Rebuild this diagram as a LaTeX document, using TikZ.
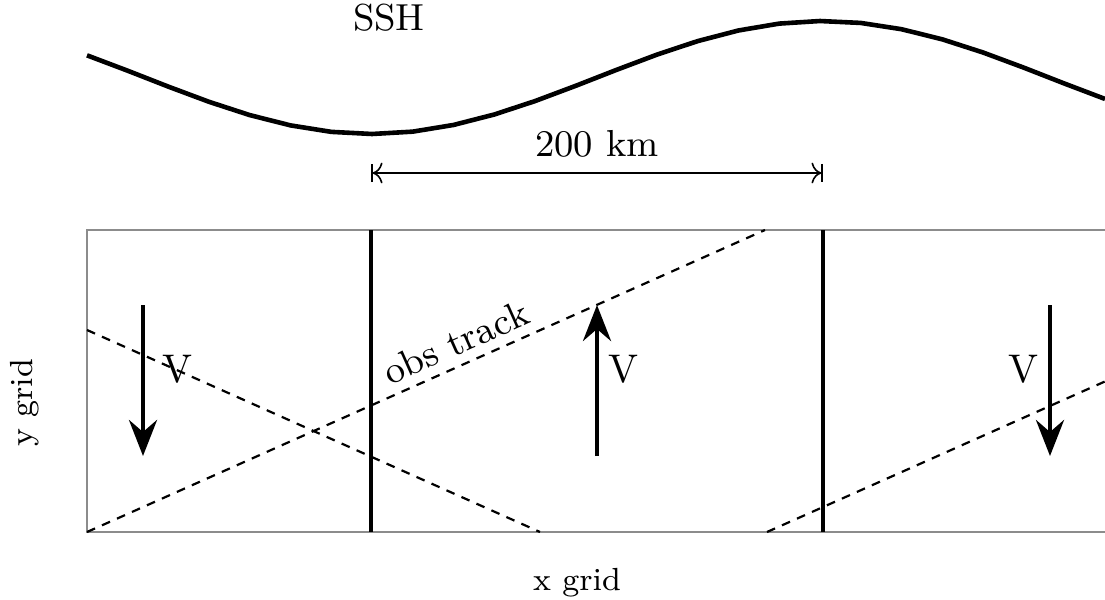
\documentclass[tikz,border=0pt]{standalone}
\usetikzlibrary{arrows.meta}
\begin{document}
\begin{tikzpicture}[x=0.25pt,y=-0.25pt,
  thickline/.style={line width=1.15pt},
  track/.style={line width=0.55pt,dash pattern=on 2.2pt off 1.9pt},
  frame/.style={line width=0.4pt,draw=black!45},
  varrow/.style={line width=1.15pt,-{Stealth[length=9pt,width=7pt,inset=3pt]}},
  bigtext/.style={font=\fontsize{9.4pt}{11pt}\selectfont,inner sep=0pt},
  vtext/.style={font=\fontsize{10pt}{12pt}\selectfont,inner sep=0pt},
  axtext/.style={font=\fontsize{8pt}{10pt}\selectfont,inner sep=0pt}]
\useasboundingbox (0,0) rectangle (1105,600);
\clip (0,0) rectangle (1105,600);
% SSH curve
\draw[thickline,line join=round] plot[domain=87:1105,samples=26,variable=\x]
  ({\x},{77.5+56.5*cos((\x-371)/452*180)});
\node[bigtext,anchor=base] (ssh) at (389,31) {SSH};
% dimension
\coordinate (d1) at (371,173);
\coordinate (d2) at (823,173);
\draw[line width=0.4pt,|<->|] (d1) -- (d2);
\node[bigtext,anchor=base] (km) at (597,156) {200 km};
% frame
\coordinate (ftr) at (1115,230);
\coordinate (ftl) at (87,230);
\coordinate (fbl) at (87,532);
\coordinate (fbr) at (1115,532);
\draw[frame] (ftr) -- (ftl) -- (fbl) -- (fbr);
% vertical grid lines
\coordinate (va) at (371,230); \coordinate (vb) at (371,532);
\coordinate (vc) at (823,230); \coordinate (vd) at (823,532);
\draw[thickline] (va) -- (vb);
\draw[thickline] (vc) -- (vd);
% tracks
\coordinate (t1a) at (87,532); \coordinate (t1b) at (765,230);
\coordinate (t2a) at (87,330); \coordinate (t2b) at (540,532);
\coordinate (t3a) at (767,532); \coordinate (t3b) at (1115,377);
\draw[track] (t1a) -- (t1b);
\draw[track] (t2a) -- (t2b);
\draw[track] (t3a) -- (t3b);
\node[bigtext,anchor=base,rotate=24] (obs) at (461,354) {obs track};
% velocity arrows
\coordinate (a1s) at (143,305); \coordinate (a1e) at (143,456);
\coordinate (a2s) at (597,456); \coordinate (a2e) at (597,305);
\coordinate (a3s) at (1050,305); \coordinate (a3e) at (1050,456);
\draw[varrow] (a1s) -- (a1e);
\draw[varrow] (a2s) -- (a2e);
\draw[varrow] (a3s) -- (a3e);
\node[vtext,anchor=base] (v1) at (177,382) {V};
\node[vtext,anchor=base] (v2) at (623,382) {V};
\node[vtext,anchor=base] (v3) at (1023,382) {V};
% axis labels
\node[axtext,anchor=base,rotate=90] (yg) at (33,403) {y grid};
\node[axtext,anchor=base] (xg) at (577,590) {x grid};
\end{tikzpicture}
\end{document}
